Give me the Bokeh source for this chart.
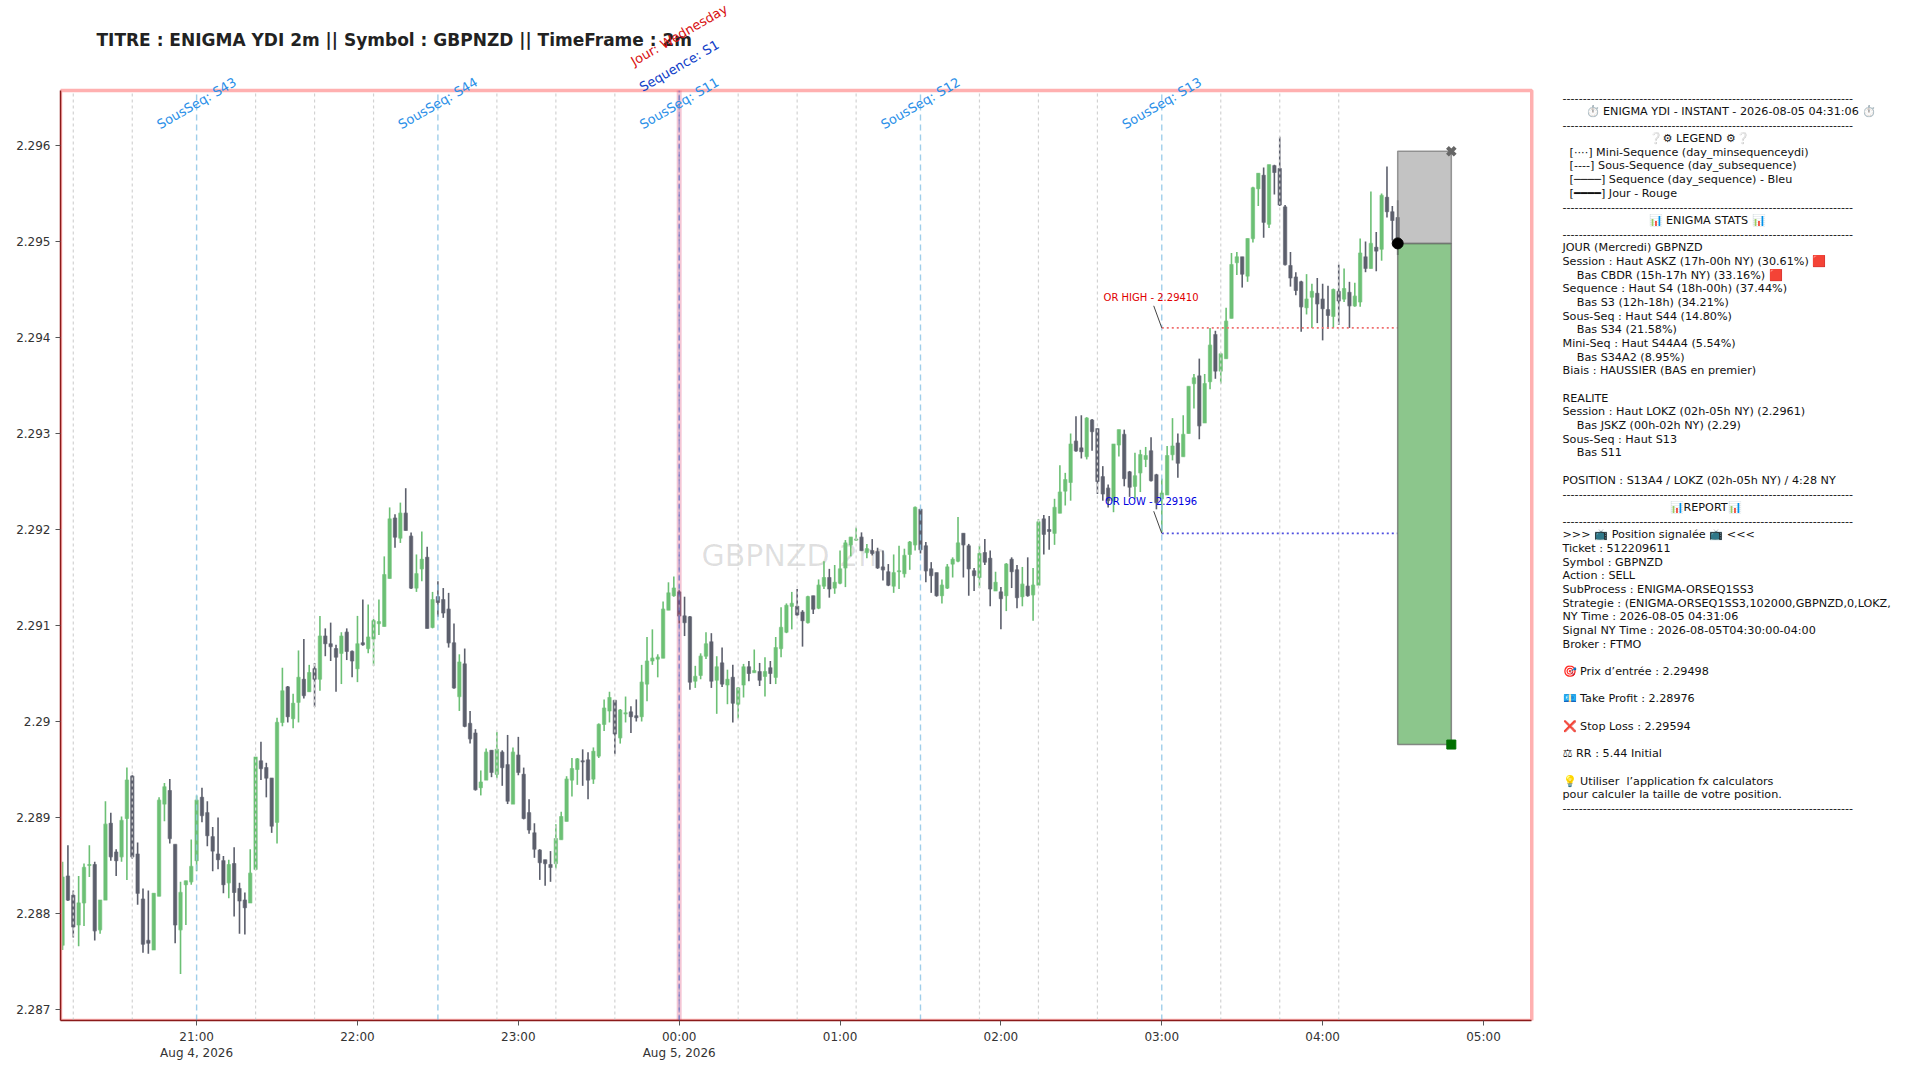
import pandas as pd
from bokeh.embed import file_html
from bokeh.resources import INLINE
from bokeh.plotting import figure
from bokeh.models import (ColumnDataSource, Range1d, FixedTicker, NumeralTickFormatter, Label)

TITLE = "TITRE : ENIGMA YDI 2m || Symbol : GBPNZD || TimeFrame : 2m"
SYMBOL_MARK = "GBPNZD 2m"

opens = [
2.28767,2.28839,2.28819,2.28788,2.28811,2.28850,2.28851,2.28783,2.28814,2.28894,
2.28864,2.28859,2.28899,2.28943,2.28862,2.28815,2.28772,2.28762,2.28818,2.28914,
2.28928,2.28872,2.28783,2.28830,2.28833,2.28855,2.28921,2.28905,2.28880,2.28862,
2.28855,2.28832,2.28852,2.28826,2.28814,2.28811,2.28846,2.28959,2.28952,2.28941,
2.28895,2.28999,2.29036,2.29003,2.29020,2.29044,2.29031,2.29055,2.29044,2.29089,
2.29081,2.29076,2.29071,2.29093,2.29073,2.29055,2.29082,2.29076,2.29086,2.29102,
2.29099,2.29149,2.29212,2.29191,2.29217,2.29193,2.29139,2.29159,2.29171,2.29098,
2.29130,2.29127,2.29117,2.29082,2.29026,2.29060,2.28998,2.28988,2.28931,2.28939,
2.28970,2.28945,2.28968,2.28955,2.28914,2.28965,2.28945,2.28905,2.28884,2.28866,
2.28856,2.28851,2.28852,2.28877,2.28896,2.28939,2.28950,2.28959,2.28960,2.28940,
2.28964,2.28997,2.29011,2.29022,2.28983,2.29008,2.29010,2.29006,2.29005,2.29039,
2.29063,2.29065,2.29066,2.29116,2.29131,2.29135,2.29110,2.29109,2.29042,2.29048,
2.29068,2.29083,2.29043,2.29061,2.29038,2.29046,2.29018,2.29038,2.29057,2.29051,
2.29052,2.29047,2.29056,2.29046,2.29076,2.29093,2.29120,2.29120,2.29114,2.29103,
2.29131,2.29118,2.29141,2.29150,2.29139,2.29144,2.29160,2.29184,2.29189,2.29192,
2.29176,2.29178,2.29177,2.29161,2.29156,2.29141,2.29156,2.29154,2.29174,2.29184,
2.29221,2.29183,2.29159,2.29155,2.29131,2.29139,2.29164,2.29167,2.29196,2.29183,
2.29157,2.29150,2.29176,2.29170,2.29136,2.29135,2.29131,2.29169,2.29158,2.29130,
2.29141,2.29132,2.29142,2.29211,2.29200,2.29196,2.29217,2.29240,2.29249,2.29292,
2.29285,2.29276,2.29314,2.29305,2.29255,2.29243,2.29230,2.29288,2.29299,2.29260,
2.29245,2.29259,2.29273,2.29282,2.29257,2.29232,2.29236,2.29278,2.29290,2.29276,
2.29300,2.29352,2.29360,2.29311,2.29354,2.29403,2.29365,2.29378,2.29420,2.29478,
2.29484,2.29464,2.29503,2.29555,2.29569,2.29518,2.29579,2.29576,2.29536,2.29475,
2.29463,2.29458,2.29431,2.29442,2.29446,2.29440,2.29429,2.29422,2.29448,2.29440,
2.29447,2.29433,2.29437,2.29484,2.29472,2.29494,2.29492,2.29546,2.29531,2.29525]

highs = [
2.28854,2.28871,2.28824,2.28839,2.28852,2.28871,2.28854,2.28814,2.28917,2.28905,
2.28867,2.28901,2.28952,2.28944,2.28874,2.28826,2.28824,2.28821,2.28921,2.28936,
2.28940,2.28872,2.28833,2.28834,2.28877,2.28923,2.28931,2.28917,2.28890,2.28900,
2.28860,2.28856,2.28869,2.28832,2.28822,2.28867,2.28963,2.28979,2.28957,2.28941,
2.29004,2.29056,2.29037,2.29029,2.29074,2.29086,2.29059,2.29061,2.29110,2.29097,
2.29103,2.29080,2.29093,2.29097,2.29074,2.29110,2.29127,2.29122,2.29107,2.29127,
2.29172,2.29223,2.29216,2.29228,2.29243,2.29197,2.29174,2.29198,2.29182,2.29135,
2.29146,2.29139,2.29134,2.29102,2.29070,2.29076,2.29011,2.28992,2.28949,2.28972,
2.28970,2.28989,2.28970,2.28986,2.28973,2.28984,2.28952,2.28919,2.28894,2.28867,
2.28856,2.28865,2.28893,2.28906,2.28943,2.28962,2.28962,2.28971,2.28968,2.28973,
2.28998,2.29023,2.29031,2.29022,2.29013,2.29026,2.29016,2.29023,2.29059,2.29088,
2.29096,2.29070,2.29125,2.29145,2.29151,2.29137,2.29130,2.29110,2.29058,2.29071,
2.29093,2.29092,2.29068,2.29077,2.29054,2.29059,2.29036,2.29060,2.29063,2.29075,
2.29061,2.29067,2.29063,2.29088,2.29119,2.29123,2.29135,2.29138,2.29116,2.29131,
2.29131,2.29148,2.29167,2.29159,2.29163,2.29178,2.29189,2.29192,2.29202,2.29197,
2.29185,2.29190,2.29181,2.29178,2.29164,2.29174,2.29183,2.29180,2.29188,2.29224,
2.29221,2.29187,2.29166,2.29155,2.29148,2.29164,2.29171,2.29213,2.29196,2.29185,
2.29160,2.29183,2.29190,2.29178,2.29156,2.29140,2.29165,2.29171,2.29163,2.29161,
2.29171,2.29160,2.29211,2.29215,2.29214,2.29232,2.29267,2.29259,2.29300,2.29318,
2.29319,2.29317,2.29315,2.29305,2.29266,2.29247,2.29289,2.29304,2.29304,2.29261,
2.29280,2.29283,2.29286,2.29296,2.29258,2.29253,2.29287,2.29316,2.29300,2.29319,
2.29349,2.29362,2.29378,2.29362,2.29410,2.29407,2.29384,2.29431,2.29488,2.29489,
2.29484,2.29503,2.29557,2.29571,2.29577,2.29580,2.29580,2.29609,2.29538,2.29489,
2.29468,2.29459,2.29466,2.29456,2.29462,2.29456,2.29454,2.29451,2.29476,2.29472,
2.29458,2.29457,2.29503,2.29500,2.29552,2.29510,2.29550,2.29578,2.29537,2.29543]

lows = [
2.28762,2.28813,2.28775,2.28766,2.28787,2.28838,2.28772,2.28779,2.28814,2.28855,
2.28839,2.28854,2.28835,2.28857,2.28809,2.28759,2.28758,2.28762,2.28818,2.28896,
2.28873,2.28769,2.28737,2.28788,2.28830,2.28844,2.28895,2.28870,2.28844,2.28846,
2.28821,2.28816,2.28797,2.28779,2.28778,2.28811,2.28845,2.28939,2.28921,2.28884,
2.28873,2.28995,2.28999,2.28993,2.28999,2.29024,2.29031,2.29015,2.29032,2.29068,
2.29063,2.29031,2.29039,2.29064,2.29046,2.29041,2.29079,2.29071,2.29058,2.29090,
2.29099,2.29149,2.29181,2.29186,2.29199,2.29138,2.29135,2.29146,2.29097,2.29097,
2.29109,2.29108,2.29077,2.29034,2.29011,2.28994,2.28977,2.28928,2.28923,2.28939,
2.28942,2.28941,2.28933,2.28914,2.28914,2.28944,2.28898,2.28883,2.28858,2.28835,
2.28829,2.28833,2.28847,2.28877,2.28896,2.28922,2.28934,2.28933,2.28919,2.28935,
2.28962,2.28990,2.28999,2.28966,2.28977,2.28999,2.28988,2.29000,2.29000,2.29021,
2.29059,2.29046,2.29066,2.29116,2.29130,2.29102,2.29089,2.29033,2.29035,2.29044,
2.29065,2.29035,2.29008,2.29036,2.29018,2.28999,2.29003,2.29025,2.29042,2.29051,
2.29037,2.29026,2.29039,2.29039,2.29067,2.29092,2.29096,2.29110,2.29078,2.29102,
2.29112,2.29117,2.29138,2.29129,2.29133,2.29143,2.29140,2.29172,2.29188,2.29178,
2.29170,2.29173,2.29159,2.29147,2.29141,2.29134,2.29138,2.29150,2.29158,2.29178,
2.29175,2.29145,2.29134,2.29130,2.29123,2.29138,2.29150,2.29166,2.29150,2.29131,
2.29136,2.29139,2.29163,2.29120,2.29136,2.29096,2.29115,2.29139,2.29118,2.29120,
2.29130,2.29105,2.29142,2.29174,2.29179,2.29184,2.29217,2.29225,2.29230,2.29281,
2.29274,2.29273,2.29282,2.29237,2.29230,2.29223,2.29218,2.29276,2.29245,2.29234,
2.29232,2.29239,2.29265,2.29250,2.29221,2.29197,2.29236,2.29272,2.29254,2.29276,
2.29300,2.29326,2.29294,2.29311,2.29346,2.29357,2.29352,2.29378,2.29420,2.29465,
2.29452,2.29458,2.29499,2.29537,2.29504,2.29514,2.29549,2.29537,2.29475,2.29453,
2.29444,2.29406,2.29424,2.29410,2.29415,2.29397,2.29409,2.29410,2.29413,2.29437,
2.29410,2.29432,2.29432,2.29468,2.29472,2.29469,2.29480,2.29525,2.29501,2.29486]

closes = [
2.28838,2.28814,2.28786,2.28811,2.28848,2.28851,2.28782,2.28814,2.28893,2.28859,
2.28855,2.28897,2.28939,2.28859,2.28821,2.28768,2.28769,2.28821,2.28918,2.28932,
2.28878,2.28788,2.28822,2.28834,2.28849,2.28918,2.28902,2.28881,2.28865,2.28856,
2.28830,2.28851,2.28822,2.28813,2.28806,2.28842,2.28963,2.28951,2.28941,2.28891,
2.28999,2.29032,2.29005,2.29019,2.29046,2.29027,2.29051,2.29044,2.29089,2.29081,
2.29078,2.29067,2.29089,2.29073,2.29063,2.29081,2.29080,2.29088,2.29105,2.29104,
2.29153,2.29211,2.29192,2.29217,2.29199,2.29139,2.29154,2.29169,2.29097,2.29127,
2.29124,2.29113,2.29082,2.29035,2.29062,2.28995,2.28982,2.28929,2.28937,2.28968,
2.28947,2.28971,2.28952,2.28917,2.28968,2.28947,2.28899,2.28887,2.28867,2.28853,
2.28852,2.28848,2.28878,2.28901,2.28940,2.28951,2.28961,2.28958,2.28939,2.28969,
2.28997,2.29014,2.29025,2.28987,2.29012,2.29009,2.29005,2.29004,2.29041,2.29063,
2.29066,2.29067,2.29117,2.29134,2.29139,2.29110,2.29103,2.29041,2.29047,2.29068,
2.29081,2.29042,2.29057,2.29039,2.29044,2.29019,2.29035,2.29057,2.29050,2.29053,
2.29043,2.29052,2.29050,2.29077,2.29098,2.29121,2.29123,2.29111,2.29105,2.29130,
2.29117,2.29142,2.29150,2.29138,2.29145,2.29159,2.29186,2.29192,2.29190,2.29178,
2.29180,2.29175,2.29160,2.29158,2.29142,2.29155,2.29157,2.29173,2.29187,2.29223,
2.29179,2.29157,2.29152,2.29131,2.29142,2.29161,2.29169,2.29186,2.29184,2.29159,
2.29152,2.29175,2.29166,2.29138,2.29145,2.29128,2.29164,2.29156,2.29129,2.29143,
2.29131,2.29142,2.29208,2.29195,2.29198,2.29223,2.29239,2.29252,2.29289,2.29282,
2.29281,2.29316,2.29302,2.29250,2.29237,2.29230,2.29289,2.29304,2.29253,2.29244,
2.29256,2.29278,2.29277,2.29251,2.29228,2.29238,2.29277,2.29287,2.29269,2.29299,
2.29349,2.29358,2.29308,2.29352,2.29392,2.29365,2.29383,2.29417,2.29476,2.29484,
2.29466,2.29503,2.29556,2.29571,2.29520,2.29580,2.29572,2.29538,2.29476,2.29462,
2.29449,2.29432,2.29440,2.29448,2.29435,2.29430,2.29423,2.29450,2.29438,2.29451,
2.29433,2.29443,2.29488,2.29472,2.29498,2.29490,2.29548,2.29531,2.29522,2.29498]

candle_times = pd.date_range("2026-08-04 20:10", periods=len(opens), freq="2min")

mini_seq = ["2026-08-04 20:14","2026-08-04 20:36","2026-08-04 21:22","2026-08-04 21:44","2026-08-04 22:06",
            "2026-08-04 22:52","2026-08-04 23:14","2026-08-04 23:36","2026-08-05 00:22","2026-08-05 00:44",
            "2026-08-05 01:06","2026-08-05 01:52","2026-08-05 02:14","2026-08-05 02:36","2026-08-05 03:22",
            "2026-08-05 03:44","2026-08-05 04:06"]
sub_seq = {"SousSeq: S43":"2026-08-04 21:00","SousSeq: S44":"2026-08-04 22:30","SousSeq: S11":"2026-08-05 00:00",
           "SousSeq: S12":"2026-08-05 01:30","SousSeq: S13":"2026-08-05 03:00"}
day_start = "2026-08-05 00:00"
hour_ticks = pd.date_range("2026-08-04 21:00", "2026-08-05 05:00", freq="1h")
hour_labels = ["21:00\nAug 4, 2026","22:00","23:00","00:00\nAug 5, 2026","01:00","02:00","03:00","04:00","05:00"]
y_ticks = [2.287,2.288,2.289,2.290,2.291,2.292,2.293,2.294,2.295,2.296]

or_high, or_low = 2.29410, 2.29196
or_start, or_end = "2026-08-05 03:00", "2026-08-05 04:28"
entry, take_profit, stop_loss = 2.29498, 2.28976, 2.29594
trade_start, trade_end = "2026-08-05 04:28", "2026-08-05 04:48"

RULE = "-" * 72
panel_lines = [
RULE,
"⏱️ ENIGMA YDI - INSTANT - 2026-08-05 04:31:06 ⏱️",
RULE,
"❔⚙ LEGEND ⚙❔",
"\u00a0\u00a0[····] Mini-Sequence (day_minsequenceydi)",
"\u00a0\u00a0[----] Sous-Sequence (day_subsequence)",
"\u00a0\u00a0[────] Sequence (day_sequence) - Bleu",
"\u00a0\u00a0[━━━━] Jour - Rouge",
RULE,
"📊 ENIGMA STATS 📊",
RULE,
"JOUR (Mercredi) GBPNZD",
"Session : Haut ASKZ (17h-00h NY) (30.61%) 🟥",
"\u00a0\u00a0\u00a0\u00a0Bas CBDR (15h-17h NY) (33.16%) 🟥",
"Sequence : Haut S4 (18h-00h) (37.44%)",
"\u00a0\u00a0\u00a0\u00a0Bas S3 (12h-18h) (34.21%)",
"Sous-Seq : Haut S44 (14.80%)",
"\u00a0\u00a0\u00a0\u00a0Bas S34 (21.58%)",
"Mini-Seq : Haut S44A4 (5.54%)",
"\u00a0\u00a0\u00a0\u00a0Bas S34A2 (8.95%)",
"Biais : HAUSSIER (BAS en premier)",
"",
"REALITE",
"Session : Haut LOKZ (02h-05h NY) (2.2961)",
"\u00a0\u00a0\u00a0\u00a0Bas JSKZ (00h-02h NY) (2.29)",
"Sous-Seq : Haut S13",
"\u00a0\u00a0\u00a0\u00a0Bas S11",
"",
"POSITION : S13A4 / LOKZ (02h-05h NY) / 4:28 NY",
RULE,
"📊REPORT📊",
RULE,
">>> 📺 Position signalée 📺 <<<",
"Ticket : 512209611",
"Symbol : GBPNZD",
"Action : SELL",
"SubProcess : ENIGMA-ORSEQ1SS3",
"Strategie : (ENIGMA-ORSEQ1SS3,102000,GBPNZD,0,LOKZ,",
"NY Time : 2026-08-05 04:31:06",
"Signal NY Time : 2026-08-05T04:30:00-04:00",
"Broker : FTMO",
"",
"🎯 Prix d’entrée : 2.29498",
"",
"💶 Take Profit : 2.28976",
"",
"❌ Stop Loss : 2.29594",
"",
"⚖ RR : 5.44 Initial",
"",
"💡 Utiliser\u00a0 l’application fx calculators",
"pour calculer la taille de votre position.",
RULE,
]
panel_indent = {1: 23, 3: 86, 9: 86, 30: 107}

GREEN, DARK = "#6cc075", "#5c5f6c"
FONT = "DejaVu Sans"
Y_MIN, Y_MAX = 2.2868854, 2.2965729   # visible price window
X_MIN, X_MAX = "2026-08-04 20:09:14", "2026-08-05 05:18:00"  # visible time window

def ms(t):
    return pd.Timestamp(t).timestamp() * 1000

# The frame reaches the top and right edges of the page, so that the rotated labels and the
# report panel are not clipped; the axes and the border are bounded to the visible window.
p = figure(width=1920, height=1080, x_axis_type="datetime", output_backend="svg", toolbar_location=None,
           x_range=Range1d(ms(X_MIN), ms("2026-08-05 07:43:00")),
           y_range=Range1d(Y_MIN, 2.2975104),
           min_border_left=60, min_border_right=0, min_border_top=0, min_border_bottom=60)
p.grid.visible = False
p.outline_line_color = None

for ax in (p.xaxis[0], p.yaxis[0]):
    ax.axis_line_color = "#8a1a1a"
    ax.axis_line_width = 1.5
    ax.major_tick_line_color = "#555555"
    ax.major_tick_out = 5
    ax.major_tick_in = 0
    ax.minor_tick_line_color = None
    ax.major_label_text_font = FONT
    ax.major_label_text_font_size = "12px"
    ax.major_label_text_color = "#333333"
p.yaxis.ticker = FixedTicker(ticks=y_ticks)
p.yaxis.formatter = NumeralTickFormatter(format="0.[000]")
p.yaxis.bounds = (Y_MIN, Y_MAX)
p.xaxis.ticker = FixedTicker(ticks=[ms(t) for t in hour_ticks])
p.xaxis.major_label_overrides = {ms(t): s for t, s in zip(hour_ticks, hour_labels)}
p.xaxis.bounds = (ms(X_MIN), ms(X_MAX))
p.xaxis.major_label_standoff = 4

p.add_layout(Label(x=36, y=1020 - 39, x_units="screen", y_units="screen", text=TITLE, text_font=FONT,
                   text_font_size="17px", text_font_style="bold", text_color="#222222",
                   text_align="left", text_baseline="middle", level="underlay"))
p.add_layout(Label(x=ms("2026-08-05 00:43"), y=(Y_MIN + Y_MAX) / 2, text=SYMBOL_MARK, text_font=FONT, text_font_size="30px",
                   text_color="#000000", text_alpha=0.13, text_align="center", text_baseline="middle", level="underlay"))

src = ColumnDataSource(dict(
    t=candle_times, o=opens, h=highs, l=lows, c=closes,
    top=[max(a, b) for a, b in zip(opens, closes)],
    bot=[min(a, b) for a, b in zip(opens, closes)],
    color=[GREEN if c >= o else DARK for o, c in zip(opens, closes)]))
p.segment("t", "h", "t", "l", source=src, color="color", line_width=1.6)
p.vbar("t", width=72000, top="top", bottom="bot", source=src, fill_color="color", line_color="color", line_width=1.2, line_alpha=0.6)

# visible border
p.quad(left=[ms(X_MIN)], right=[ms(X_MAX)], bottom=[Y_MIN], top=[Y_MAX], fill_color=None, line_color="#ffb0b0", line_width=3.5)

mini_src = ColumnDataSource(dict(t=[ms(t) for t in mini_seq], y0=[Y_MIN] * len(mini_seq), y1=[Y_MAX] * len(mini_seq)))
p.segment("t", "y0", "t", "y1", source=mini_src, line_color="#d2d2d2", line_dash="3 3", line_width=1.2)
sub_src = ColumnDataSource(dict(t=[ms(t) for t in sub_seq.values()], y0=[Y_MIN] * len(sub_seq), y1=[Y_MAX] * len(sub_seq)))
p.segment("t", "y0", "t", "y1", source=sub_src, line_color="#8ec6e6", line_dash="6 4", line_width=1.4, line_alpha=0.85)
for name, t in sub_seq.items():
    p.add_layout(Label(x=ms(t), y=2.29644, text=name, angle=30, angle_units="deg", text_font=FONT, text_font_size="13px",
                       text_color="#2a8fe8", text_align="center", text_baseline="middle"))
p.segment([ms(day_start)], [Y_MIN], [ms(day_start)], [Y_MAX], line_color="#d94070", line_width=5, line_alpha=0.3)
p.segment([ms(day_start)], [Y_MIN], [ms(day_start)], [Y_MAX], line_color="#3050c0", line_dash="5 3", line_width=1.3, line_alpha=0.45)
p.add_layout(Label(x=ms(day_start), y=2.29683, text="Sequence: S1", angle=30, angle_units="deg", text_font=FONT, text_font_size="13px",
                   text_color="#1040c8", text_align="center", text_baseline="middle"))
p.add_layout(Label(x=ms(day_start), y=2.29715, text="Jour: Wednesday", angle=30, angle_units="deg", text_font=FONT, text_font_size="13px",
                   text_color="#d81010", text_align="center", text_baseline="middle"))

# opening range
p.segment([ms(or_start)], [or_high], [ms(or_end)], [or_high], line_color="#f07070", line_dash="2 3", line_width=1.6)
p.segment([ms(or_start)], [or_low], [ms(or_end)], [or_low], line_color="#5050e0", line_dash="2 3", line_width=1.6)
p.segment([ms("2026-08-05 02:57")], [2.29433], [ms(or_start)], [or_high], line_color="#444444", line_width=1)
p.segment([ms("2026-08-05 02:57")], [2.29219], [ms(or_start)], [or_low], line_color="#444444", line_width=1)
p.add_layout(Label(x=ms("2026-08-05 02:56"), y=2.29436, text="OR HIGH - 2.29410", text_font=FONT, text_font_size="10px",
                   text_color="#e00000", text_align="center", text_baseline="bottom"))
p.add_layout(Label(x=ms("2026-08-05 02:56"), y=2.29223, text="OR LOW - 2.29196", text_font=FONT, text_font_size="10px",
                   text_color="#0000e0", text_align="center", text_baseline="bottom"))

# trade box
p.quad(left=[ms(trade_start)], right=[ms(trade_end)], bottom=[entry], top=[stop_loss], fill_color="#808080", fill_alpha=0.47, line_color="#808080", line_width=1.5, line_alpha=0.8)
p.quad(left=[ms(trade_start)], right=[ms(trade_end)], bottom=[take_profit], top=[entry], fill_color="#008000", fill_alpha=0.45, line_color="#707070", line_width=1.5, line_alpha=0.8)
p.scatter([ms(trade_start)], [entry], marker="circle", size=11, color="#000000")
p.scatter([ms(trade_end)], [stop_loss], marker="x", size=11, line_color="#666666", line_width=4)
p.scatter([ms(trade_end)], [take_profit], marker="square", size=9, color="#007000")

for k, line in enumerate(panel_lines):
    if not line:
        continue
    page_y = 97 + 13.67 * k
    page_x = 1562 + panel_indent.get(k, 0)
    p.add_layout(Label(x=page_x - 60, y=1020 - page_y, x_units="screen", y_units="screen", text=line, text_font=FONT,
                       text_font_size="11.2px", text_color="#111111", text_align="left", text_baseline="middle"))

open("out.html", "w").write(file_html(p, INLINE))
